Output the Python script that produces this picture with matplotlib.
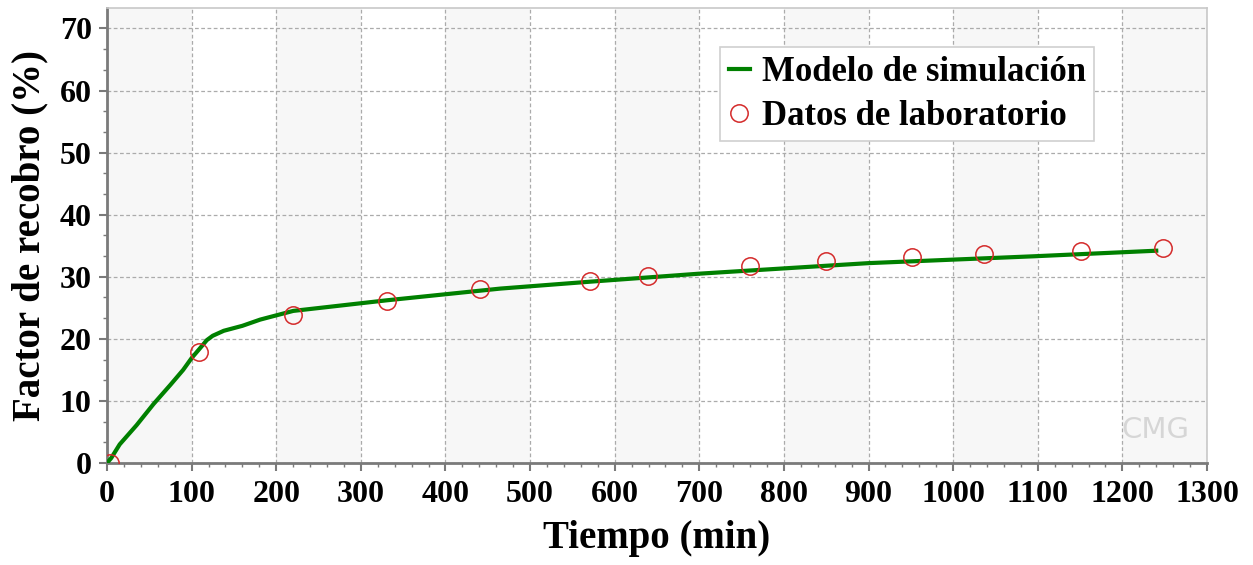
import matplotlib
matplotlib.use("Agg")
import matplotlib.pyplot as plt
from matplotlib.ticker import AutoMinorLocator

# Simulation model curve
sim_time = [0, 5, 15, 35, 55, 75, 90, 100, 110, 118, 125, 138, 160, 181, 220, 330, 465, 570, 700, 900, 1095, 1240]
sim_recovery = [0, 0.8, 3.0, 6.1, 9.5, 12.6, 15.0, 16.9, 18.5, 19.8, 20.5, 21.3, 22.1, 23.1, 24.5, 26.2, 28.1, 29.2, 30.5, 32.2, 33.3, 34.2]

# Laboratory data
lab_time = [3, 109, 220, 331, 441, 571, 639, 760, 850, 951, 1037, 1151, 1248]
lab_recovery = [0.0, 17.9, 23.8, 26.1, 28.0, 29.3, 30.1, 31.7, 32.5, 33.2, 33.7, 34.1, 34.6]

x_ticks = list(range(0, 1301, 100))
y_ticks = list(range(0, 71, 10))

plt.rcParams['font.family'] = ['Liberation Serif', 'DejaVu Serif']
plt.rcParams['font.weight'] = 'bold'

fig = plt.figure(figsize=(12.53, 5.65), dpi=100)
ax = fig.add_axes([107/1253, 1-463/565, 1100/1253, 455/565])

ax.set_xlim(0, 1300)
ax.set_ylim(0, 73.3)

# alternating column bands
for i, x0 in enumerate(x_ticks[:-1]):
    if i % 2 == 0:
        ax.axvspan(x0, x0 + 100, color='#f7f7f7', zorder=0, lw=0)

ax.set_xticks(x_ticks)
ax.set_yticks(y_ticks)
ax.xaxis.set_minor_locator(AutoMinorLocator(5))
ax.yaxis.set_minor_locator(AutoMinorLocator(3))
ax.grid(True, which='major', linestyle=(0, (3, 2)), color='#ababab', linewidth=0.9, zorder=1)
ax.set_axisbelow(True)

ax.plot(sim_time, sim_recovery, color='#008000', linewidth=3.0, label='Modelo de simulación', zorder=3)
ax.plot(lab_time, lab_recovery, linestyle='none', marker='o', markersize=12.5,
        markerfacecolor='none', markeredgecolor='#d42a2a', markeredgewidth=1.1,
        label='Datos de laboratorio', zorder=4)

for s in ['left', 'bottom']:
    ax.spines[s].set_color('#7a7a7a')
    ax.spines[s].set_linewidth(2.0)
for s in ['top', 'right']:
    ax.spines[s].set_color('#c8c8c8')
    ax.spines[s].set_linewidth(1.2)

ax.tick_params(axis='both', which='major', length=6, width=1.5, color='#7a7a7a',
               labelsize=23)
ax.tick_params(axis='x', which='major', pad=6)
ax.tick_params(axis='y', which='major', pad=5)
ax.tick_params(axis='both', which='minor', length=3, width=1.0, color='#7a7a7a')
for lab in ax.get_xticklabels() + ax.get_yticklabels():
    lab.set_fontweight('bold')

ax.set_xlabel('Tiempo (min)', fontsize=28, fontweight='bold')
ax.set_ylabel('Factor de recobro (%)', fontsize=28, fontweight='bold')
ax.xaxis.set_label_coords(0.5, -0.125)
ax.yaxis.set_label_coords(-0.053, 0.5)

leg = ax.legend(loc='upper left', bbox_to_anchor=(720/1253, 1-47/565), bbox_transform=fig.transFigure,
                prop={'family': 'Liberation Serif', 'weight': 'bold', 'size': 25},
                frameon=True, fancybox=False, framealpha=1, edgecolor='#d0d0d0',
                handlelength=0.6, handletextpad=0.35, borderpad=0.25, labelspacing=0.32,
                borderaxespad=0)
leg.get_frame().set_linewidth(1.2)

ax.text(1155/1253, 1-430/565, 'CMG', transform=fig.transFigure, ha='center', va='center',
        fontsize=21, color='#d6d6d6', family='DejaVu Sans', fontweight='normal', zorder=2)

fig.savefig('out.png', dpi=100)
